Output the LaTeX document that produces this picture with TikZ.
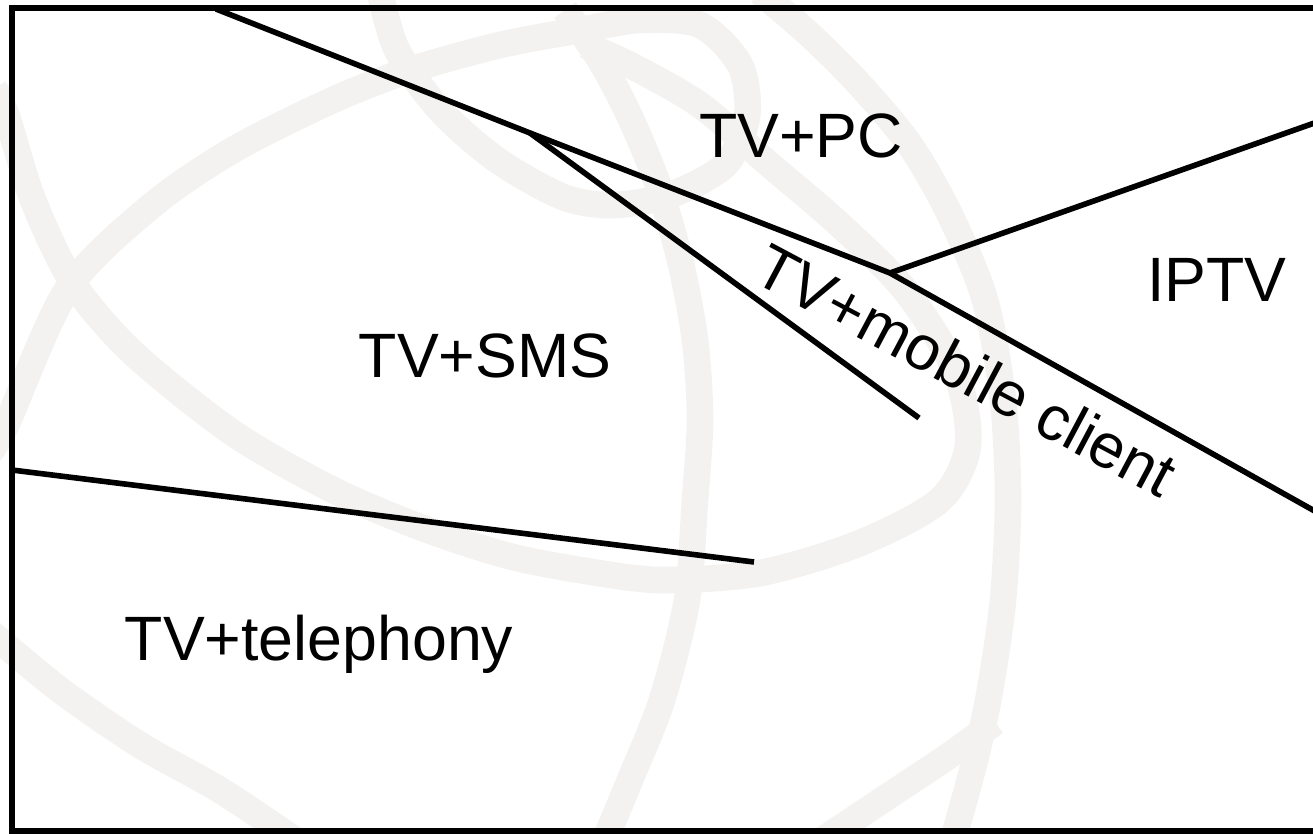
\documentclass[tikz,border=0pt]{standalone}
\usepackage{fontspec}
\setmainfont{Liberation Sans}
\definecolor{wmgray}{RGB}{243,242,240}
\tikzset{every picture/.style={line width=0.75pt}}

\begin{document}
\begin{tikzpicture}[x=0.75pt,y=0.75pt,yscale=-1,xscale=1,
  wmark/.style={draw=wmgray, line width=20pt},
  divider/.style={draw=black, line width=4.2pt},
  zone/.style={font=\fontsize{47}{56}\selectfont, inner sep=0pt, anchor=base}]
%set diagram left start at 0, and has height of 833
\useasboundingbox (0,0) rectangle (1313,833);
\clip (0,0) rectangle (1313,833);

%Watermark loop
\draw [wmark] plot [smooth] coordinates {(-10,452) (7,423) (67,290) (150,207) (233,150) (333,100) (410,70) (500,45) (580,30) (640,20) (700,25) (740,65) (747,117) (725,165) (670,195) (613,205) (563,197) (497,160) (440,110) (397,50) (380,-8)};
%Watermark sweep
\draw [wmark] plot [smooth] coordinates {(-6,88) (7,117) (33,200) (73,283) (133,353) (233,433) (333,490) (420,527) (505,555) (580,570) (660,580) (760,573) (860,543) (940,500) (968,445) (955,370) (905,290) (840,225) (770,165) (700,105) (630,65) (585,45)};
%Watermark meridian left
\draw [wmark] plot [smooth] coordinates {(565,10) (600,60) (630,117) (658,185) (680,260) (695,340) (700,420) (695,500) (687,600) (662,700) (630,780) (605,840)};
%Watermark meridian right
\draw [wmark] plot [smooth] coordinates {(760,-8) (810,35) (860,85) (910,145) (950,215) (985,300) (1003,400) (1008,500) (1003,600) (990,690) (975,760) (953,840)};
%Watermark arc bottom left
\draw [wmark] plot [smooth] coordinates {(-10,632) (60,690) (140,745) (220,790) (295,840)};
%Watermark arc bottom right
\draw [wmark] plot [smooth] coordinates {(815,845) (893,793) (950,755) (995,722)};

%Frame
\draw [divider] (12,8) rectangle (1340,831);

%Corner points
\coordinate (topA) at (216,9);
\coordinate (forkL) at (530,133);
\coordinate (forkR) at (890,273);
\coordinate (rimIP) at (1320,121);
\coordinate (rimLow) at (1320,514);
\coordinate (tipMob) at (919,418);
\coordinate (rimTel) at (12,470);
\coordinate (tipTel) at (754,562);

%Straight Lines
\draw [divider] (topA) -- (forkL) -- (forkR) -- (rimLow);
\draw [divider] (forkL) -- (tipMob);
\draw [divider] (forkR) -- (rimIP);
\draw [divider] (rimTel) -- (tipTel);

% Text Node
\node [zone] (pc) at (801,157) {TV+PC};
% Text Node
\node [zone] (sms) at (485,377) {TV+SMS};
% Text Node
\node [zone] (iptv) at (1217,301) {IPTV};
% Text Node
\node [zone] (tel) at (319,660) {TV+telephony};
% Text Node
\node [zone, anchor=center, rotate=-28] (mob) at (966,370) {TV+mobile client};

\end{tikzpicture}
\end{document}
